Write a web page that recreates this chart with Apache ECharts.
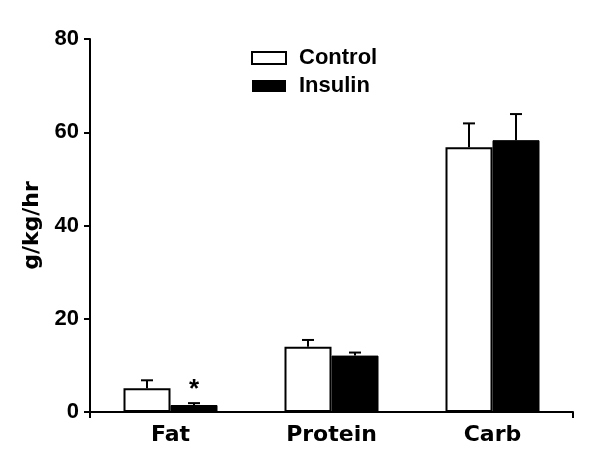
<!DOCTYPE html>
<html>
<head>
<meta charset="utf-8">
<script src="https://cdn.jsdelivr.net/npm/echarts@6/dist/echarts.min.js"></script>
<style>html,body{margin:0;padding:0;background:#fff}#c{width:600px;height:467px}</style>
</head>
<body>
<div id="c"></div>
<script>
const categories = ['Fat', 'Protein', 'Carb'];
const seriesNames = ['Control', 'Insulin'];
const controlValues = [5.1, 14.0, 56.8];
const controlErrors = [1.7, 1.45, 5.1];
const insulinValues = [1.5, 12.1, 58.3];
const insulinErrors = [0.4, 0.65, 5.6];
const yTicks = { min: 0, max: 80, interval: 20 };
const significant = ['*', '', ''];

const chart = echarts.init(document.getElementById('c'), null, { renderer: 'canvas' });
const BW = 47;
const arial = '"Liberation Sans", Arial, Helvetica, sans-serif';
const dejavu = '"DejaVu Sans", sans-serif';

function errSeries(name, vals, errs, side) {
  return {
    type: 'custom',
    name: name + ' err',
    xAxisIndex: 0,
    yAxisIndex: 0,
    z: 1,
    silent: true,
    data: vals.map((v, i) => [i, v, errs[i]]),
    renderItem: function (params, api) {
      const i = api.value(0);
      const base = api.coord([i, api.value(1)]);
      const top = api.coord([i, api.value(1) + api.value(2)]);
      const x = base[0] + side * BW / 2;
      const cw = 6;
      return {
        type: 'group',
        children: [
          { type: 'line', shape: { x1: x, y1: base[1], x2: x, y2: top[1] }, style: { stroke: '#000', lineWidth: 2 } },
          { type: 'line', shape: { x1: x - cw, y1: top[1], x2: x + cw, y2: top[1] }, style: { stroke: '#000', lineWidth: 2 } }
        ]
      };
    }
  };
}

chart.setOption({
  animation: false,
  backgroundColor: '#fff',
  grid: { left: 90, right: 27, top: 39, bottom: 55 },
  legend: {
    data: [
      { name: 'Control', itemStyle: { color: '#fff', borderColor: '#000', borderWidth: 2 } },
      { name: 'Insulin', itemStyle: { color: '#000', borderColor: '#000', borderWidth: 0 } }
    ],
    orient: 'vertical',
    left: 251,
    top: 47,
    padding: 0,
    itemWidth: 34,
    itemHeight: 12,
    itemGap: 6,
    icon: 'rect',
    textStyle: { fontFamily: arial, fontWeight: 'bold', fontSize: 22, color: '#000', lineHeight: 22, padding: [0, 0, 0, 8] }
  },
  xAxis: [
    {
      type: 'category',
      data: categories,
      axisLine: { lineStyle: { color: '#000', width: 2 } },
      axisTick: { show: false },
      axisLabel: { color: '#000', fontFamily: dejavu, fontWeight: 'bold', fontSize: 22, margin: 12 }
    },
    {
      type: 'value',
      position: 'bottom',
      min: 0, max: 3, interval: 3,
      axisLine: { show: false },
      axisTick: { show: true, length: 6, lineStyle: { color: '#000', width: 2 } },
      axisLabel: { show: false },
      splitLine: { show: false }
    }
  ],
  yAxis: {
    type: 'value',
    min: yTicks.min, max: yTicks.max, interval: yTicks.interval,
    name: 'g/kg/hr',
    nameLocation: 'middle',
    nameGap: 47,
    nameTextStyle: { color: '#000', fontFamily: dejavu, fontWeight: 'bold', fontSize: 22 },
    axisLine: { show: true, lineStyle: { color: '#000', width: 2 } },
    axisTick: { show: true, length: 6, lineStyle: { color: '#000', width: 2 } },
    axisLabel: { color: '#000', fontFamily: arial, fontWeight: 'bold', fontSize: 22, margin: 11 },
    splitLine: { show: false }
  },
  series: [
    errSeries('Control', controlValues, controlErrors, -1),
    errSeries('Insulin', insulinValues, insulinErrors, 1),
    {
      type: 'bar', name: 'Control', barWidth: BW, barGap: '0%', z: 2,
      itemStyle: { color: '#fff', borderColor: '#000', borderWidth: 2 },
      data: controlValues
    },
    {
      type: 'bar', name: 'Insulin', barWidth: BW, barGap: '0%', z: 2,
      itemStyle: { color: '#000', borderColor: '#000', borderWidth: 1 },
      label: {
        show: true, position: 'top', distance: 2,
        formatter: p => significant[p.dataIndex],
        fontFamily: arial, fontWeight: 'bold', fontSize: 26, color: '#000'
      },
      data: insulinValues
    }
  ]
});
</script>
</body>
</html>
